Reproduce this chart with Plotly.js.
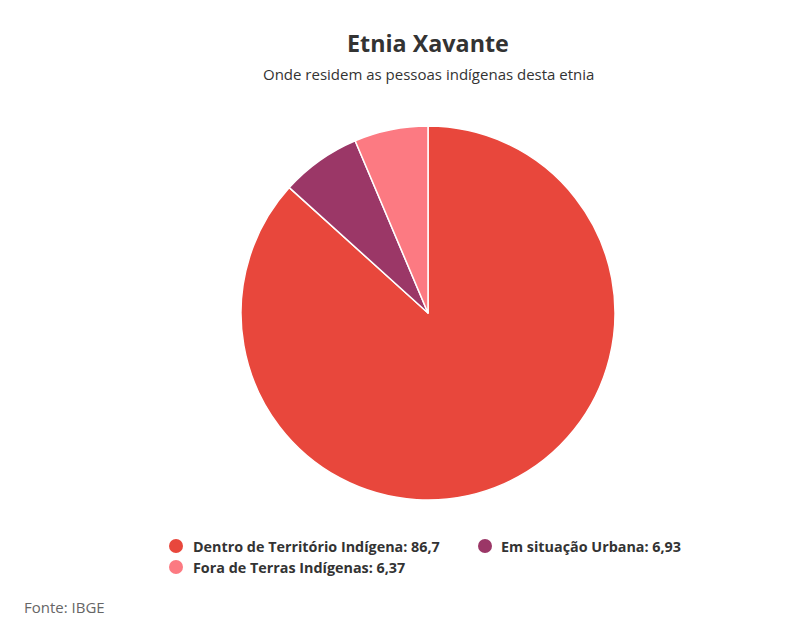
<!DOCTYPE html>
<html>
<head>
<meta charset="utf-8">
<script src="https://cdn.plot.ly/plotly-3.0.1.min.js"></script>
<style>html,body{margin:0;padding:0;background:#fff;}#chart{width:795px;height:627px;}</style>
</head>
<body>
<div id="chart"></div>
<script>
const labels = ["Dentro de Território Indígena", "Em situação Urbana", "Fora de Terras Indígenas"];
const values = [86.7, 6.93, 6.37];
const colors = ["#E8473C", "#9B3767", "#FC7A82"];
const titleText = "Etnia Xavante";
const subtitleText = "Onde residem as pessoas indígenas desta etnia";
const sourceText = "Fonte: IBGE";

const W = 795, H = 627;
const px = x => x / W;
const py = y => 1 - y / H;
const fmt = v => String(v).replace('.', ',');

// legend layout (pixel positions)
const legendPos = [
  {cx: 176, cy: 546, tx: 191},
  {cx: 485, cy: 546, tx: 499},
  {cx: 176, cy: 567, tx: 191}
];

const annotations = [
  {text: "<b>" + titleText + "</b>", x: px(428), y: py(43), xref: "paper", yref: "paper",
   xanchor: "center", yanchor: "middle", showarrow: false,
   font: {family: "Open Sans", size: 23.3, color: "#333333"}},
  {text: subtitleText, x: px(428), y: py(74), xref: "paper", yref: "paper",
   xanchor: "center", yanchor: "middle", showarrow: false,
   font: {family: "Open Sans", size: 15, color: "#333333"}},
  {text: sourceText, x: px(22), y: py(607), xref: "paper", yref: "paper",
   xanchor: "left", yanchor: "middle", showarrow: false,
   font: {family: "Open Sans", size: 15, color: "#666666"}}
];
const shapes = [];
labels.forEach((l, i) => {
  const p = legendPos[i];
  annotations.push({text: "<b>" + l + ": " + fmt(values[i]) + "</b>", x: px(p.tx), y: py(p.cy),
    xref: "paper", yref: "paper", xanchor: "left", yanchor: "middle", showarrow: false,
    font: {family: "Open Sans", size: 14.35, color: "#333333"}});
  shapes.push({type: "circle", xref: "paper", yref: "paper",
    x0: px(p.cx - 7), x1: px(p.cx + 7), y0: py(p.cy + 7), y1: py(p.cy - 7),
    fillcolor: colors[i], line: {width: 0}});
});

const data = [{
  type: "pie",
  labels: labels,
  values: values,
  marker: {colors: colors, line: {color: "#ffffff", width: 1.5}},
  sort: false,
  direction: "clockwise",
  rotation: 0,
  textinfo: "none",
  hoverinfo: "label+value",
  showlegend: false,
  domain: {x: [px(241), px(615)], y: [py(500), py(126)]}
}];

const layout = {
  width: W, height: H,
  margin: {l: 0, r: 0, t: 0, b: 0},
  paper_bgcolor: "#ffffff",
  showlegend: false,
  annotations: annotations,
  shapes: shapes,
  font: {family: "Open Sans"}
};
Plotly.newPlot("chart", data, layout, {displayModeBar: false, staticPlot: true});
</script>
</body>
</html>
